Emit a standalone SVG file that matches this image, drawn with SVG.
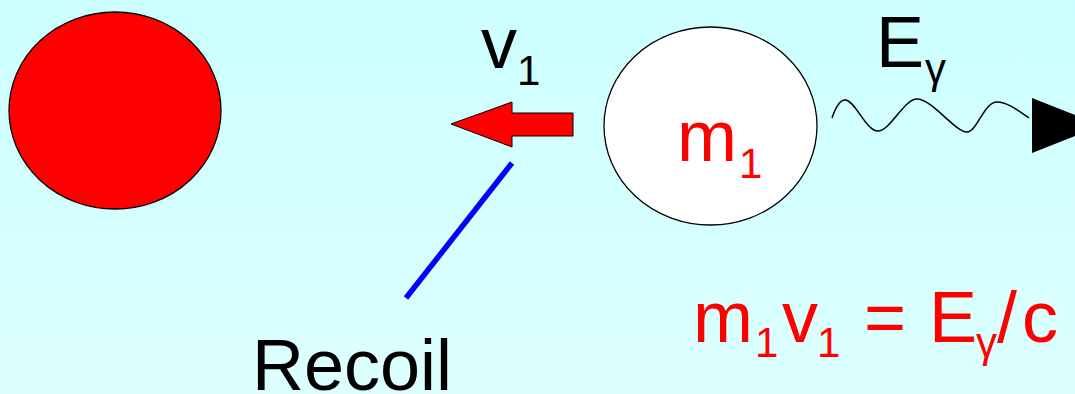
<svg xmlns="http://www.w3.org/2000/svg" width="1075" height="394" viewBox="0 0 1075 394">
  <defs>
    <linearGradient id="bg" x1="0" y1="0" x2="0" y2="1">
      <stop offset="0" stop-color="#ccffff"/>
      <stop offset="1" stop-color="#ddffff"/>
    </linearGradient>
    <style>
      .t { font-family: "Liberation Sans", Arial, sans-serif; }
      .big { font-size: 72px; }
      .sub { font-size: 42px; }
      .red { fill: #ff0000; }
      .blk { fill: #000000; }
      .ball { stroke: #000000; stroke-width: 1.3; }
    </style>
  </defs>
  <rect width="1075" height="394" fill="url(#bg)"/>

  <g id="recoil-nucleus">
    <ellipse class="ball" cx="115" cy="110.5" rx="106" ry="98.5" fill="#ff0000"/>
  </g>

  <g id="emitting-nucleus">
    <ellipse class="ball" cx="710.5" cy="126" rx="106.5" ry="99" fill="#ffffff"/>
    <text class="t red"><tspan class="big" x="677" y="161">m</tspan><tspan class="sub" x="739" y="178">1</tspan></text>
  </g>

  <g id="velocity-arrow">
    <polygon points="451,124 512,102 512,113 573,113 573,136 512,136 512,147" fill="#ff0000" stroke="#000000" stroke-width="1"/>
    <text class="t blk"><tspan class="big" x="481" y="68">v</tspan><tspan class="sub" x="517" y="85">1</tspan></text>
  </g>

  <g id="photon">
    <polygon points="1032,98 1102,125.5 1032,153" fill="#000000"/>
    <text class="t blk"><tspan class="big" x="876" y="67">E</tspan><tspan class="sub" x="925" y="83">γ</tspan></text>
  </g>

  <g id="recoil-label">
    <text class="t blk" x="252" y="390" font-size="72">Recoil</text>
  </g>

  <g id="momentum-equation">
    <text class="t red"><tspan class="big" x="693" y="342">m</tspan><tspan class="sub" x="755" y="357">1</tspan><tspan class="big" x="782" y="342">v</tspan><tspan class="sub" x="817" y="357">1</tspan><tspan class="big" x="864" y="342">=</tspan><tspan class="big" x="929" y="342">E</tspan><tspan class="sub" x="976" y="357">γ</tspan><tspan class="big" x="997" y="342">/</tspan><tspan class="big" x="1022" y="342">c</tspan></text>
  </g>

  <g id="connectors">
    <line x1="512" y1="163" x2="406" y2="298" stroke="#0000ff" stroke-width="5.5"/>
    <path d="M832,118 C836,106 840,99 846,100 C856,102 866,131 878,131 C890,131 904,99 917,99 C932,99 955,132 967,132 C977,132 984,102 997,102 C1008,102 1020,112 1029,118" fill="none" stroke="#000000" stroke-width="1.5"/>
  </g>
</svg>
